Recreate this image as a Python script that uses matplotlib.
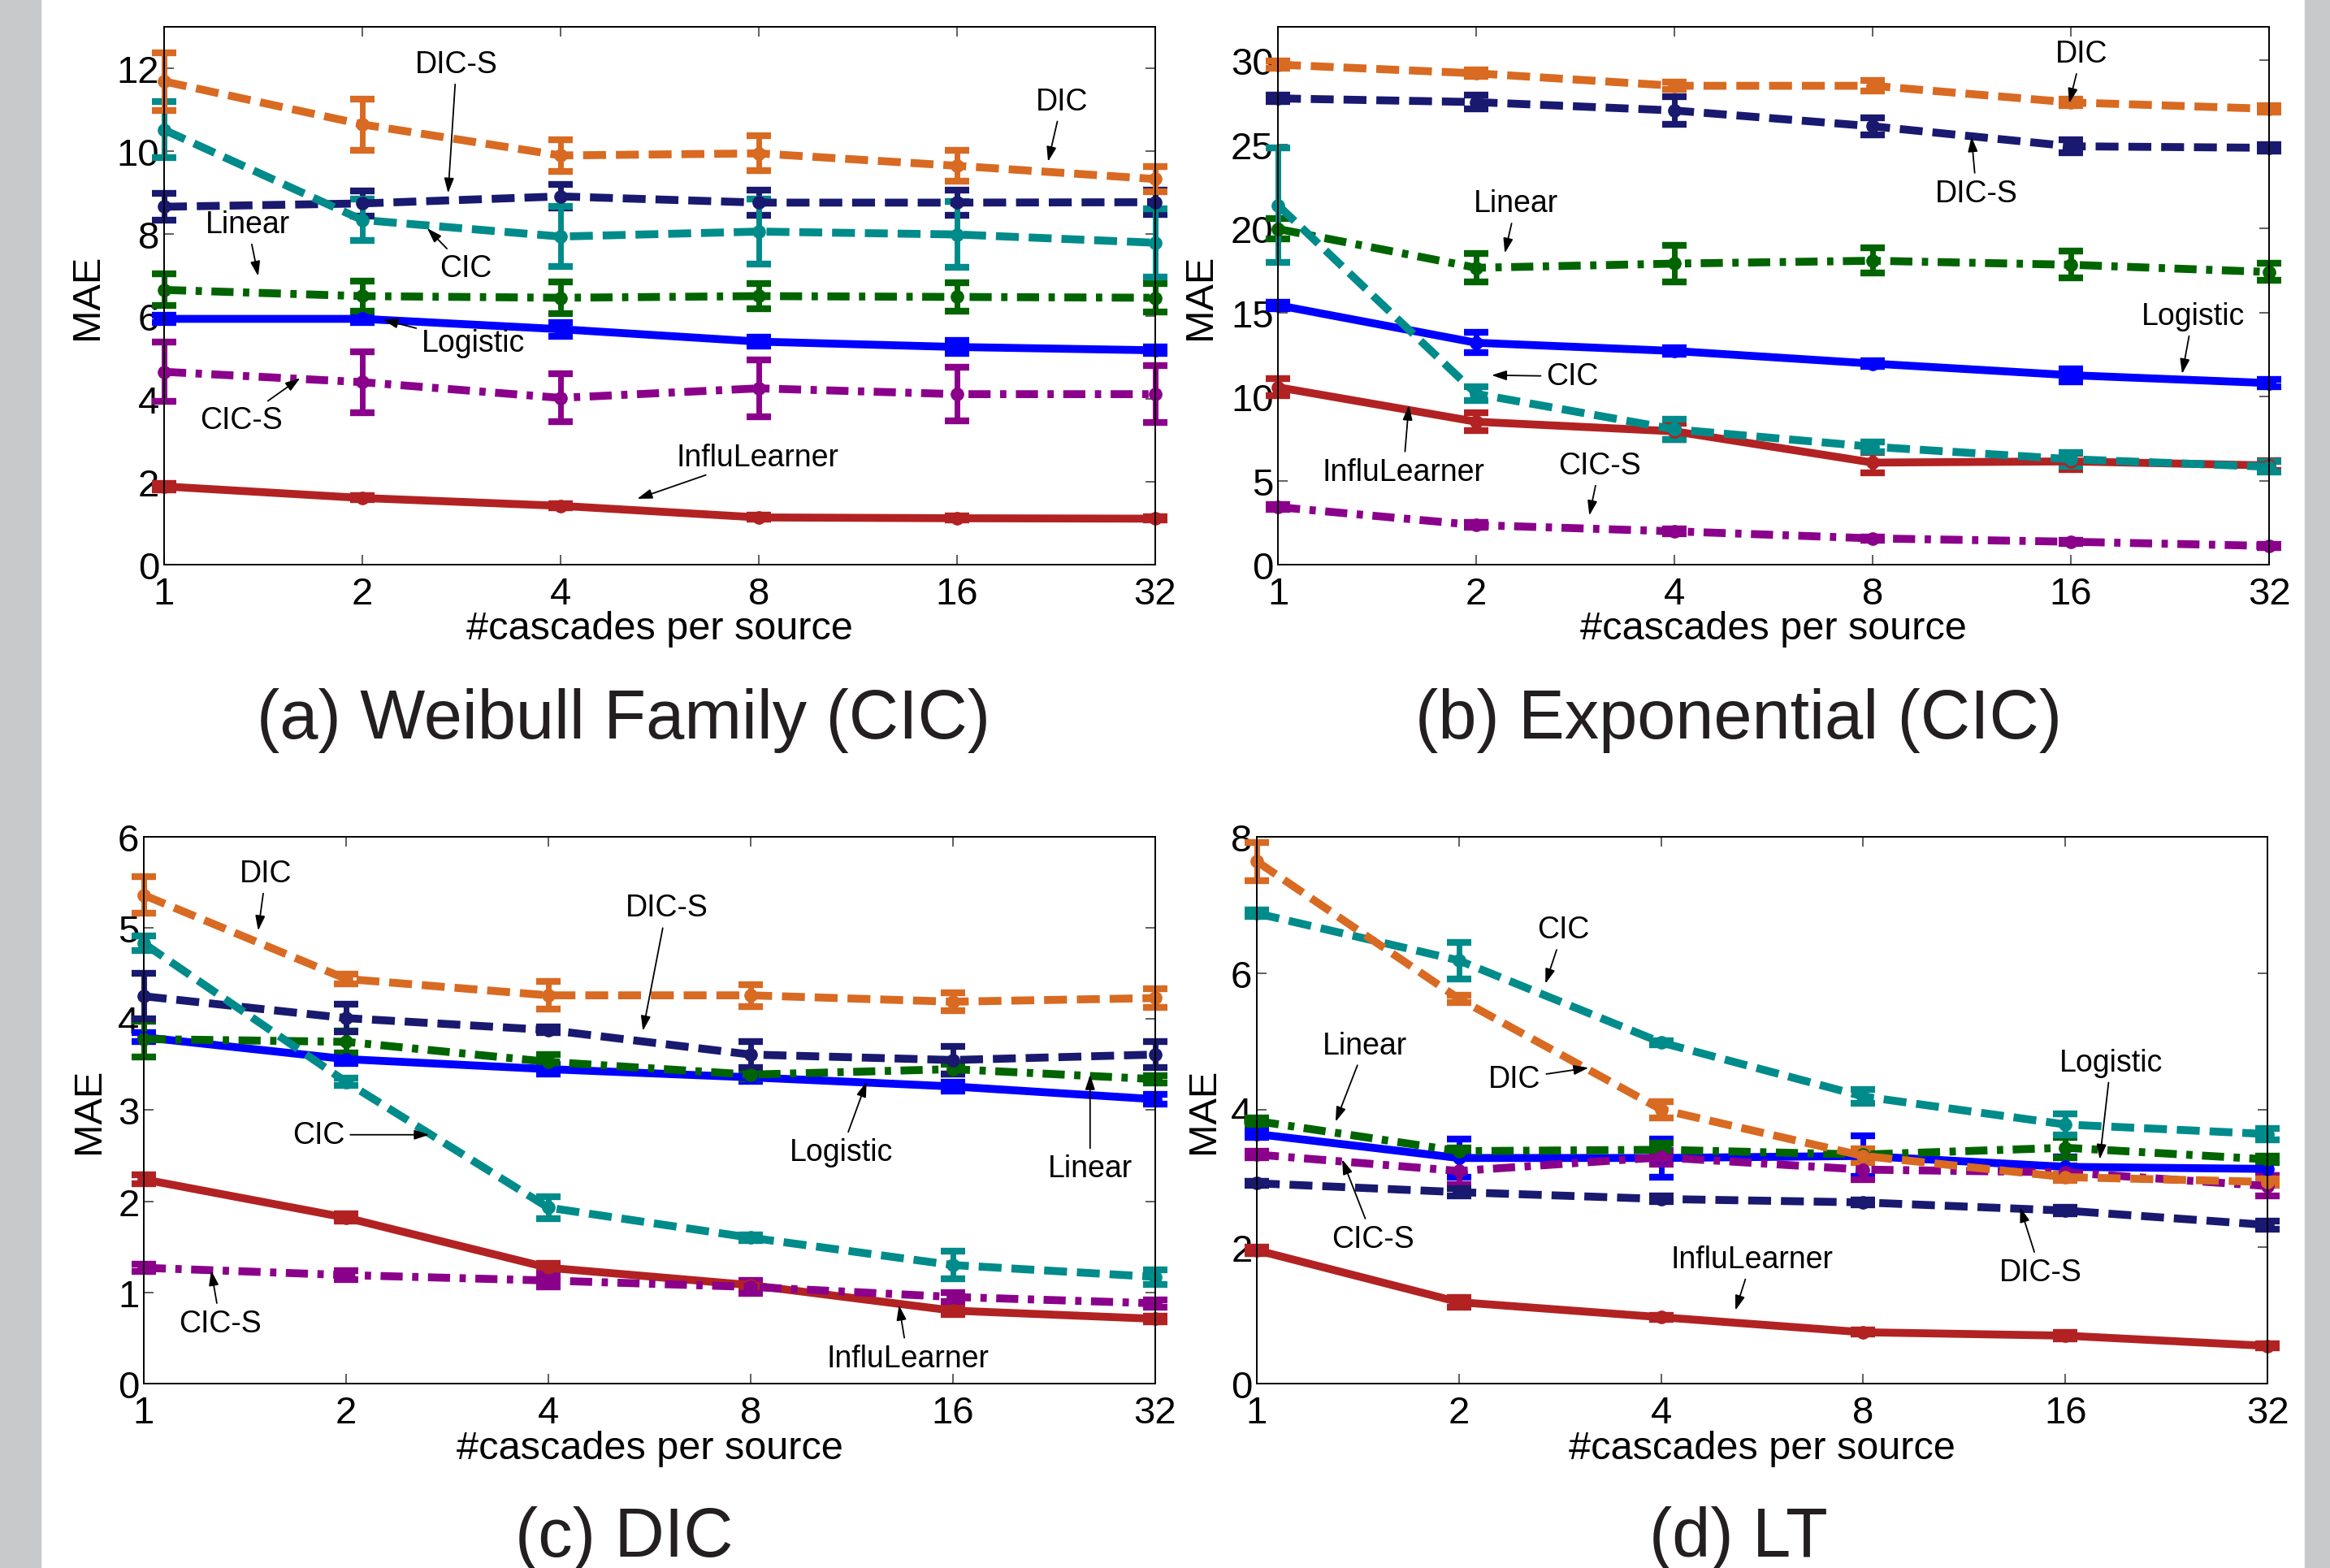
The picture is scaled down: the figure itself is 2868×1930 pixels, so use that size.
import matplotlib
matplotlib.use("Agg")
import matplotlib.pyplot as plt
from matplotlib.patches import Rectangle

plt.rcParams['font.family'] = ['Liberation Sans', 'DejaVu Sans']

# number of cascades per source (x axis of every panel)
cascades = [1, 2, 4, 8, 16, 32]
methods = ["InfluLearner", "Logistic", "Linear", "CIC-S", "DIC-S", "CIC", "DIC"]

# (a) Weibull family (CIC)
mae_weibull = {
    "InfluLearner": [1.89, 1.61, 1.42, 1.14, 1.12, 1.11],
    "Logistic": [5.94, 5.94, 5.69, 5.39, 5.26, 5.18],
    "Linear": [6.64, 6.49, 6.45, 6.49, 6.47, 6.45],
    "CIC-S": [4.66, 4.41, 4.03, 4.26, 4.12, 4.12],
    "DIC-S": [8.65, 8.73, 8.90, 8.75, 8.75, 8.76],
    "CIC": [10.51, 8.33, 7.93, 8.05, 7.98, 7.78],
    "DIC": [11.68, 10.64, 9.89, 9.94, 9.64, 9.32],
}
err_weibull = {
    "InfluLearner": [0.08, 0.05, 0.05, 0.05, 0.05, 0.04],
    "Logistic": [0.08, 0.08, 0.17, 0.10, 0.15, 0.08],
    "Linear": [0.38, 0.36, 0.38, 0.30, 0.35, 0.35],
    "CIC-S": [0.72, 0.74, 0.58, 0.69, 0.65, 0.69],
    "DIC-S": [0.33, 0.30, 0.28, 0.30, 0.30, 0.30],
    "CIC": [0.68, 0.50, 0.72, 0.78, 0.80, 0.82],
    "DIC": [0.70, 0.62, 0.38, 0.42, 0.37, 0.30],
}

# (b) Exponential (CIC)
mae_expo = {
    "InfluLearner": [10.55, 8.50, 7.93, 6.07, 6.14, 5.90],
    "Logistic": [15.43, 13.20, 12.71, 11.96, 11.27, 10.80],
    "Linear": [19.97, 17.66, 17.91, 18.08, 17.84, 17.41],
    "CIC-S": [3.42, 2.35, 1.98, 1.56, 1.36, 1.11],
    "DIC-S": [27.74, 27.52, 27.02, 26.08, 24.89, 24.80],
    "CIC": [21.38, 10.16, 8.05, 7.01, 6.27, 5.82],
    "DIC": [29.75, 29.23, 28.49, 28.49, 27.50, 27.12],
}
err_expo = {
    "InfluLearner": [0.50, 0.55, 0.50, 0.60, 0.50, 0.30],
    "Logistic": [0.20, 0.60, 0.20, 0.15, 0.40, 0.20],
    "Linear": [0.60, 0.85, 1.10, 0.75, 0.80, 0.50],
    "CIC-S": [0.15, 0.15, 0.15, 0.10, 0.10, 0.10],
    "DIC-S": [0.20, 0.40, 0.80, 0.50, 0.40, 0.20],
    "CIC": [3.40, 0.40, 0.60, 0.30, 0.40, 0.30],
    "DIC": [0.20, 0.20, 0.20, 0.30, 0.20, 0.20],
}

# (c) DIC
mae_dic = {
    "InfluLearner": [2.24, 1.82, 1.27, 1.08, 0.80, 0.71],
    "Logistic": [3.80, 3.56, 3.45, 3.36, 3.26, 3.12],
    "Linear": [3.78, 3.75, 3.53, 3.39, 3.45, 3.34],
    "CIC-S": [1.27, 1.19, 1.13, 1.06, 0.95, 0.88],
    "DIC-S": [4.25, 4.01, 3.88, 3.61, 3.55, 3.61],
    "CIC": [4.83, 3.31, 1.93, 1.60, 1.30, 1.17],
    "DIC": [5.36, 4.44, 4.26, 4.26, 4.19, 4.23],
}
err_dic = {
    "InfluLearner": [0.05, 0.04, 0.05, 0.04, 0.04, 0.03],
    "Logistic": [0.05, 0.05, 0.05, 0.04, 0.05, 0.05],
    "Linear": [0.20, 0.12, 0.08, 0.05, 0.05, 0.04],
    "CIC-S": [0.04, 0.05, 0.07, 0.07, 0.05, 0.04],
    "DIC-S": [0.25, 0.15, 0.03, 0.14, 0.15, 0.14],
    "CIC": [0.08, 0.04, 0.12, 0.03, 0.15, 0.08],
    "DIC": [0.20, 0.05, 0.15, 0.12, 0.10, 0.10],
}

# (d) LT
mae_lt = {
    "InfluLearner": [1.95, 1.19, 0.97, 0.75, 0.70, 0.55],
    "Logistic": [3.65, 3.30, 3.30, 3.33, 3.17, 3.14],
    "Linear": [3.84, 3.40, 3.42, 3.35, 3.45, 3.28],
    "CIC-S": [3.35, 3.11, 3.31, 3.13, 3.09, 2.89],
    "DIC-S": [2.93, 2.80, 2.70, 2.65, 2.53, 2.32],
    "CIC": [6.88, 6.19, 4.99, 4.20, 3.79, 3.65],
    "DIC": [7.64, 5.63, 4.01, 3.33, 3.02, 2.95],
}
err_lt = {
    "InfluLearner": [0.05, 0.07, 0.03, 0.03, 0.05, 0.03],
    "Logistic": [0.05, 0.28, 0.28, 0.30, 0.15, 0.10],
    "Linear": [0.05, 0.05, 0.10, 0.05, 0.15, 0.05],
    "CIC-S": [0.05, 0.20, 0.10, 0.15, 0.10, 0.15],
    "DIC-S": [0.03, 0.05, 0.04, 0.04, 0.05, 0.06],
    "CIC": [0.05, 0.27, 0.03, 0.10, 0.15, 0.08],
    "DIC": [0.28, 0.05, 0.12, 0.10, 0.05, 0.05],
}

titles = ["(a) Weibull Family (CIC)", "(b) Exponential (CIC)", "(c) DIC", "(d) LT"]

# line look for each method
colors = {"InfluLearner": "#B22222", "Logistic": "#0000FF", "Linear": "#006400",
          "CIC-S": "#8B008B", "DIC-S": "#191970", "CIC": "#008B8B", "DIC": "#D86A22"}
dashed = (0, (2.9, 1.25))
dashdot = (0, (2.8, 1.2, 0.8, 1.2))
styles = {"InfluLearner": "-", "Logistic": "-", "Linear": dashdot, "CIC-S": dashdot,
          "DIC-S": dashed, "CIC": dashed, "DIC": dashed}

# label text position and arrow tip, (x, y) in data units
notes_a = [("DIC-S", (2.78, 12.1), (2.7, 8.98)), ("DIC", (23.1, 11.2), (22, 9.74)),
           ("Linear", (1.34, 8.23), (1.39, 6.97)), ("CIC", (2.87, 7.17), (2.51, 8.13)),
           ("Logistic", (2.95, 5.36), (2.15, 5.92)), ("CIC-S", (1.31, 3.5), (1.61, 4.51)),
           ("InfluLearner", (7.97, 2.6), (5.23, 1.59))]
notes_b = [("DIC", (16.6, 30.4), (15.9, 27.45)), ("DIC-S", (11.5, 22.1), (11.3, 25.46)),
           ("Linear", (2.3, 21.5), (2.21, 18.53)), ("Logistic", (24.5, 14.8), (23.6, 11.35)),
           ("CIC", (2.8, 11.2), (2.11, 11.27)), ("InfluLearner", (1.55, 5.52), (1.58, 9.49)),
           ("CIC-S", (3.08, 5.9), (2.97, 2.92))]
notes_c = [("DIC", (1.52, 5.6), (1.48, 4.97)), ("DIC-S", (6.0, 5.22), (5.53, 3.87)),
           ("CIC", (1.82, 2.73), (2.66, 2.73)), ("Logistic", (10.9, 2.54), (11.9, 3.31)),
           ("Linear", (25.6, 2.36), (25.6, 3.39)), ("CIC-S", (1.3, 0.66), (1.26, 1.24)),
           ("InfluLearner", (13.7, 0.28), (13.3, 0.86))]
notes_d = [("CIC", (2.86, 6.64), (2.69, 5.85)), ("Linear", (1.45, 4.95), (1.31, 3.83)),
           ("DIC", (2.42, 4.46), (3.12, 4.62)), ("Logistic", (18.7, 4.7), (18.0, 3.28)),
           ("CIC-S", (1.49, 2.12), (1.34, 3.28)), ("InfluLearner", (5.46, 1.82), (5.16, 1.07)),
           ("DIC-S", (14.7, 1.63), (13.7, 2.58))]

panels = [
    (mae_weibull, err_weibull, notes_a, [0.0704, 0.6396, 0.4254, 0.3428], 13, 2, -0.077),
    (mae_expo, err_expo, notes_b, [0.5485, 0.6396, 0.4254, 0.3428], 32, 5, -0.078),
    (mae_dic, err_dic, notes_c, [0.0617, 0.1176, 0.4341, 0.3485], 6, 1, -0.054),
    (mae_lt, err_lt, notes_d, [0.5394, 0.1176, 0.4338, 0.3485], 8, 2, -0.053),
]

fig = plt.figure(figsize=(28.68, 19.31), dpi=100)

# grey page margins left and right
fig.add_artist(Rectangle((0, 0), 50 / 2868, 1, transform=fig.transFigure, color="#C8C9CB", zorder=0))
fig.add_artist(Rectangle((2837 / 2868, 0), 31 / 2868, 1, transform=fig.transFigure, color="#C8C9CB", zorder=0))

for mae, err, notes, rect, ytop, ystep, ylab_x in panels:
    ax = fig.add_axes(rect)
    for m in methods:
        ax.errorbar(cascades, mae[m], yerr=err[m], color=colors[m], linestyle=styles[m],
                    linewidth=7, marker="o", markersize=11, elinewidth=5,
                    capsize=11, capthick=6, clip_on=False, dash_capstyle="butt")

    ax.set_xscale("log", base=2)
    ax.set_xlim(1, 32)
    ax.set_xticks(cascades)
    ax.set_xticklabels([str(c) for c in cascades])
    ax.minorticks_off()
    ax.set_ylim(0, ytop)
    ax.set_yticks(range(0, ytop + 1, ystep))

    ax.tick_params(direction="in", top=True, right=True, length=8.5, width=1.2,
                   labelsize=34, color="#444444")
    ax.tick_params(axis="y", pad=4)
    ax.tick_params(axis="x", pad=10)
    for s in ax.spines.values():
        s.set_linewidth(1.4)

    ax.set_xlabel("#cascades per source", fontsize=35, va="center")
    ax.xaxis.set_label_coords(0.5, -0.118)
    ax.set_ylabel("MAE", fontsize=35, va="center")
    ax.yaxis.set_label_coords(ylab_x, 0.5)

    for label, txt, tip in notes:
        ax.annotate(label, xy=tip, xytext=txt, fontsize=27, ha="center", va="center",
                    arrowprops=dict(arrowstyle="-|>,head_length=0.55,head_width=0.18",
                                    color="black", lw=1.3, mutation_scale=20,
                                    shrinkA=3, shrinkB=0))

# sub captions under each panel
fig.text(768 / 2868, 1 - 909 / 1931, titles[0], fontsize=61, ha="center", va="baseline", color="#231f20")
fig.text(2140 / 2868, 1 - 909 / 1931, titles[1], fontsize=61, ha="center", va="baseline", color="#231f20")
fig.text(768 / 2868, 1 - 1916 / 1931, titles[2], fontsize=61, ha="center", va="baseline", color="#231f20")
fig.text(2140 / 2868, 1 - 1916 / 1931, titles[3], fontsize=61, ha="center", va="baseline", color="#231f20")

fig.savefig("out.png", dpi=100)
